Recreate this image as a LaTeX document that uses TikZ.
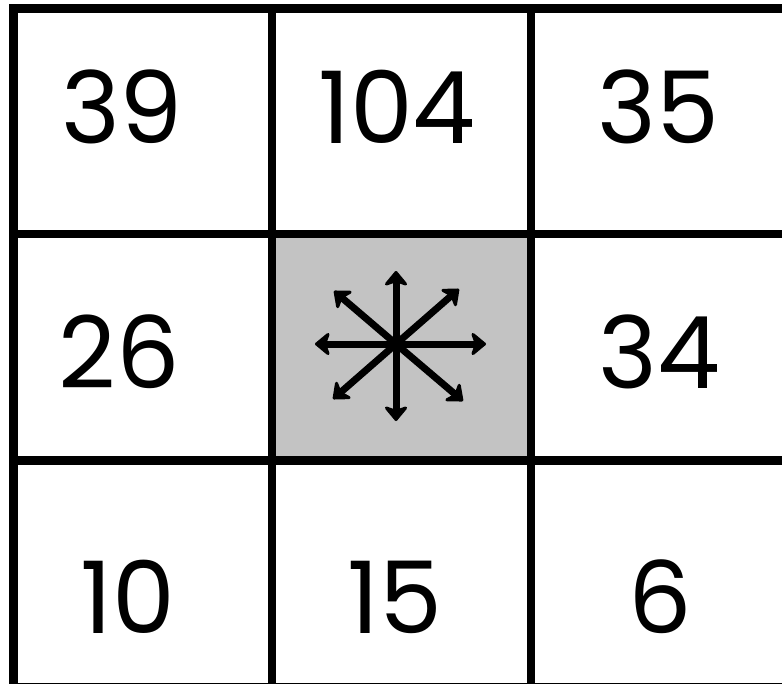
\documentclass[tikz,border=0pt]{standalone}
\usepackage{fontspec}
\setmainfont{Poppins}
\usetikzlibrary{arrows.meta}
\definecolor{cellgray}{RGB}{195,195,195}
\begin{document}
\begin{tikzpicture}[x=1pt,y=-1pt,
  gridline/.style={line width=8.5pt},
  num/.style={anchor=base,inner sep=0pt,font=\fontsize{100}{100}\selectfont},
  dirarrow/.style={line width=7pt,-{Stealth[length=17pt,width=28pt,inset=5pt,round]}}]
\useasboundingbox (0,0) rectangle (782,683);
\fill[white] (0,0) rectangle (782,683);
% centre cell
\fill[cellgray] (272,234) rectangle (531,460.5);
% grid
\draw[gridline] (13.5,8.5) rectangle (790,687);
\draw[gridline] (272,8.5) -- (272,687);
\draw[gridline] (531,8.5) -- (531,687);
\draw[gridline] (13.5,234) -- (790,234);
\draw[gridline] (13.5,460.5) -- (790,460.5);
% numbers
\node[num] (n11) at (122,143) {39};
\node[num] (n12) at (397,143) {104};
\node[num] (n13) at (658,143) {35};
\node[num] (n21) at (119,388) {26};
\node[num] (n23) at (659,388) {34};
\node[num] (n31) at (128,633) {10};
\node[num] (n32) at (395,633) {15};
\node[num] (n33) at (660,633) {6};
% arrows
\coordinate (c) at (396,344);
\coordinate (tU) at (396,271);
\coordinate (tD) at (396,421);
\coordinate (tL) at (315,344);
\coordinate (tR) at (486,344);
\coordinate (tUR) at (459,289);
\coordinate (tUL) at (334,291);
\coordinate (tLL) at (333,399);
\coordinate (tLR) at (463,401);
\foreach \t in {tU,tD,tL,tR,tUR,tUL,tLL,tLR}
  \draw[dirarrow] (c) -- (\t);
\end{tikzpicture}
\end{document}
